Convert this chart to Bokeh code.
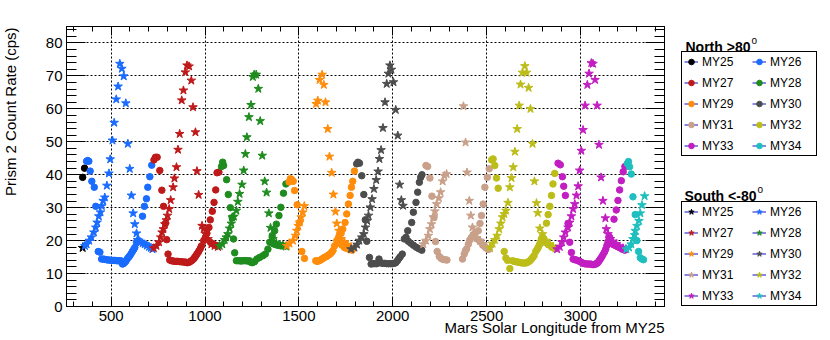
from math import pi
from bokeh.plotting import figure
from bokeh.layouts import row
from bokeh.models import (Range1d, LinearAxis, SingleIntervalTicker, Legend, LegendItem,
                          Label, Title)
from bokeh.embed import file_html
from bokeh.resources import INLINE

FONT = "Liberation Sans"
NAN = float("nan")

years = ["MY25", "MY26", "MY27", "MY28", "MY29", "MY30", "MY31", "MY32", "MY33", "MY34"]
colors = ["#000000", "#1a6cff", "#bf1a1a", "#1f8c1f", "#ff8c0a",
          "#4d4d4d", "#c9a089", "#bdbd1a", "#c21ec2", "#1fbfbf"]

# ---- North >80 (circles) ----
n25_x = [348, 358]
n25_y = [39.2, 42.0]
n26_x = [369, 375, 381, 388, 397, 410, 418, 431, 440, 449, 458, 466, 475, 484, 493, 502, 510, 519, 528, 537,
         545, 551, 560, 565, 573, 579, 585, 592, 599, 606, 613, 620, 626, 635, 644, 667, 677, 688, 695, 706, 716]
n26_y = [44.1, 44.3, 44.1, 41.1, 38.0, 36.2, 30.4, 16.7, 16.5, 14.4, 14.4, 14.3, 14.2, 14.1, 14.1, 14.0, 14.0, 14.0, 13.9, 13.9,
         13.8, 13.9, 12.9, 13.0, 13.4, 13.8, 14.4, 14.9, 15.4, 16.0, 16.7, 17.3, 17.9, 19.5, 20.0, 27.4, 30.4, 32.7, 36.2, 39.4, 42.9]
n27_x = [728, 736, 745, 759, 770, 779, 789, 796, 803, 812, 821, 830, 839, 848, 856, 865, 874, 883, 892, 900,
         905, 912, 918, 926, 933, 940, 945, 951, 957, 963, 968, 975, 981, 993, 1002, 1010, 1021, 1028, 1039, 1048,
         1057, 1064, 1074, 1030, 1045, 1060]
n27_y = [44.5, 45.3, 45.3, 41.3, 35.3, 30.4, 25.2, 20.3, 15.9, 14.1, 13.9, 13.8, 13.7, 13.7, 13.7, 13.6, 13.6, 13.5, 13.5, 13.4,
         13.3, 13.4, 13.5, 13.8, 14.1, 14.5, 14.9, 15.4, 15.9, 16.4, 16.9, 17.6, 18.4, 20.0, 21.0, 22.2, 24.0, 26.3, 28.9, 31.6,
         35.4, 40.6, 40.8, 19.4, 18.9, 18.5]
n28_x = [1088, 1094, 1099, 1115, 1124, 1135, 1145, 1152, 1158, 1167, 1175, 1184, 1193, 1202, 1211, 1220, 1228, 1237, 1245, 1252,
         1264, 1276, 1291, 1308, 1321, 1335, 1345, 1358, 1371, 1380, 1394, 1404, 1418, 1431, 1350, 1365, 1380, 1395, 1410, 1425]
n28_y = [42.5, 43.8, 42.8, 38.5, 34.0, 30.0, 26.9, 20.5, 16.3, 13.9, 13.9, 13.9, 13.8, 13.9, 13.9, 13.9, 13.8, 13.9, 13.4, 13.3,
         13.6, 14.4, 14.9, 15.4, 15.9, 17.4, 19.5, 21.5, 23.0, 25.0, 27.6, 30.1, 34.4, 37.2, 19.6, 19.0, 18.7, 18.5, 18.4, 18.3]
n29_x = [1448, 1455, 1462, 1470, 1477, 1491, 1503, 1516, 1530, 1590, 1597, 1604, 1612, 1620, 1628, 1636, 1645, 1653, 1660, 1668,
         1675, 1682, 1690, 1702, 1712, 1725, 1734, 1746, 1755, 1764, 1773, 1780, 1787, 1796, 1718, 1730, 1743, 1756, 1770, 1784]
n29_y = [37.8, 38.8, 38.5, 38.0, 35.2, 30.9, 25.5, 16.7, 14.6, 13.9, 13.7, 13.8, 14.0, 14.3, 14.6, 14.9, 15.1, 15.4, 15.7, 16.0,
         16.5, 17.0, 18.4, 20.0, 21.0, 22.2, 23.5, 25.5, 28.1, 31.1, 33.7, 36.2, 38.0, 41.1, 19.2, 18.6, 17.9, 17.6, 17.3, 17.1]
n30_x = [1808, 1815, 1823, 1835, 1846, 1854, 1862, 1876, 1885, 1895, 1905, 1915, 1927, 1938, 1948, 1958, 1968, 1978, 1988, 1998,
         2008, 2016, 2025, 2033, 2040, 2051, 2071, 2080, 2101, 2110, 2124, 2133, 2142, 2149, 2156, 2062, 2083, 2096, 2110, 2125,
         2140, 2155]
n30_y = [43.3, 43.8, 43.5, 39.7, 34.0, 26.3, 19.8, 14.9, 12.9, 13.0, 13.0, 13.0, 14.4, 13.2, 13.1, 13.1, 13.0, 13.0, 13.0, 13.0,
         13.1, 13.3, 13.9, 14.6, 15.1, 15.9, 21.0, 23.0, 25.5, 28.6, 31.6, 34.7, 37.7, 39.2, 40.0, 20.5, 19.8, 19.2, 18.6, 18.0,
         17.5, 17.1]
n31_x = [2177, 2186, 2198, 2209, 2220, 2228, 2237, 2248, 2258, 2268, 2278, 2289, 2372, 2381, 2387, 2394, 2403, 2411, 2420, 2430,
         2440, 2456, 2465, 2473, 2482, 2491, 2504, 2514, 2450, 2465, 2480, 2495, 2510]
n31_y = [42.8, 42.5, 39.0, 33.5, 27.0, 19.7, 16.7, 15.2, 14.6, 14.3, 14.2, 14.1, 14.4, 15.9, 16.9, 17.5, 18.9, 20.2, 21.0, 21.8,
         22.4, 23.0, 25.2, 27.6, 31.1, 36.2, 39.2, 41.8, 20.5, 19.7, 18.6, 17.9, 17.3]
n32_x = [2527, 2535, 2544, 2553, 2562, 2594, 2603, 2612, 2624, 2638, 2647, 2656, 2665, 2674, 2682, 2691, 2700, 2709, 2718, 2727,
         2733, 2739, 2746, 2753, 2762, 2769, 2775, 2781, 2787, 2798, 2819, 2828, 2837, 2846, 2854, 2863, 2792, 2810, 2828, 2846,
         2863]
n32_y = [44.5, 44.8, 42.8, 39.0, 35.9, 16.7, 14.7, 14.0, 11.5, 13.9, 13.7, 13.6, 13.5, 13.4, 13.3, 13.2, 13.2, 13.2, 13.4, 13.7,
         14.0, 14.4, 14.9, 15.4, 16.7, 17.3, 17.9, 18.7, 19.5, 21.2, 25.3, 27.9, 30.4, 33.7, 37.2, 40.4, 20.5, 19.5, 18.8, 18.1,
         17.6]
n33_x = [2881, 2893, 2904, 2911, 2920, 2934, 2943, 2952, 2961, 2970, 2979, 2988, 2996, 3005, 3014, 3023, 3032, 3041, 3050, 3059,
         3067, 3075, 3082, 3088, 3094, 3100, 3106, 3113, 3120, 3128, 3135, 3141, 3147, 3152, 3156, 3162, 3170, 3179, 3188, 3197,
         3206, 3215, 3223, 3236, 3179, 3191, 3200, 3209, 3218, 3228, 3237]
n33_y = [43.5, 43.0, 39.4, 36.5, 33.7, 25.2, 19.5, 16.4, 14.4, 14.2, 14.1, 13.9, 13.7, 13.4, 13.1, 13.0, 12.9, 12.9, 12.9, 12.8,
         12.7, 12.8, 12.9, 13.1, 13.4, 13.9, 14.4, 15.0, 15.7, 16.5, 17.4, 18.5, 19.5, 20.3, 21.0, 19.6, 19.0, 18.7, 18.5, 18.2,
         18.0, 17.7, 17.4, 17.1, 26.5, 29.3, 32.2, 35.4, 38.2, 40.9, 42.5]
n34_x = [3250, 3256, 3262, 3271, 3280, 3292, 3301, 3310, 3319, 3328, 3336]
n34_y = [43.4, 44.0, 42.4, 40.2, 33.3, 27.9, 20.0, 16.7, 14.8, 14.4, 14.2]

# ---- South <-80 (stars) ----
s25_x = [348]
s25_y = [17.8]
s26_x = [360, 369, 383, 395, 408, 418, 425, 434, 443, 450, 457, 466, 477, 488, 495, 507, 516, 527, 537, 546,
         557, 567, 578, 589, 599, 608, 617, 626, 635, 640, 656, 668, 679, 690, 702, 712, 720]
s26_y = [18.4, 18.9, 20.0, 21.0, 22.5, 24.0, 25.5, 27.4, 28.6, 30.5, 32.1, 33.1, 36.7, 40.4, 44.7, 50.4, 55.8, 62.9, 66.8, 73.7,
         72.2, 69.9, 61.7, 49.4, 41.8, 33.7, 28.3, 25.0, 22.2, 20.2, 19.5, 19.2, 18.9, 18.5, 18.1, 17.8, 17.4]
s27_x = [727, 741, 755, 764, 771, 778, 786, 794, 800, 809, 817, 830, 837, 848, 856, 865, 876, 885, 895, 904,
         915, 927, 936, 949, 957, 966, 984, 993, 1004, 1016, 1034, 1051, 1069]
s27_y = [17.7, 18.4, 19.5, 21.0, 22.5, 23.5, 25.0, 26.2, 27.6, 29.6, 32.3, 36.2, 38.9, 42.3, 47.6, 52.4, 62.6, 65.6, 71.1, 73.2,
         72.9, 68.6, 60.5, 52.9, 41.1, 33.9, 24.5, 23.5, 22.0, 20.5, 18.9, 18.4, 18.1]
s28_x = [1078, 1092, 1105, 1113, 1122, 1131, 1140, 1145, 1154, 1167, 1175, 1184, 1197, 1206, 1215, 1223, 1234, 1245, 1255, 1262,
         1273, 1284, 1294, 1305, 1318, 1328, 1340, 1349, 1362, 1380, 1397, 1415, 1433]
s28_y = [18.4, 18.9, 20.2, 21.0, 22.0, 23.7, 25.2, 27.1, 27.3, 29.1, 31.8, 34.2, 37.0, 41.3, 46.3, 51.4, 57.5, 61.2, 69.7, 70.4,
         70.4, 66.1, 56.3, 45.8, 38.0, 34.6, 28.3, 23.9, 20.5, 19.2, 18.8, 18.5, 18.2]
s29_x = [1436, 1450, 1468, 1482, 1489, 1496, 1504, 1512, 1521, 1529, 1592, 1601, 1610, 1624, 1633, 1642, 1654, 1663, 1675, 1684,
         1695, 1702, 1713, 1725, 1743, 1760, 1778]
s29_y = [18.4, 19.1, 20.0, 21.5, 23.0, 24.5, 25.5, 27.1, 28.6, 30.5, 61.5, 62.5, 68.8, 70.4, 67.3, 62.0, 53.9, 45.5, 40.6, 34.0,
         28.8, 25.2, 23.0, 20.5, 19.5, 18.7, 18.1]
s30_x = [1778, 1796, 1810, 1822, 1835, 1846, 1855, 1864, 1871, 1881, 1890, 1900, 1912, 1922, 1929, 1938, 1948, 1959, 1968, 1977,
         1985, 1993, 2004, 2016, 2027, 2037, 2046, 2055]
s30_y = [17.4, 17.9, 18.8, 20.0, 21.0, 22.0, 24.0, 26.0, 27.6, 30.1, 32.6, 35.7, 38.4, 41.0, 44.8, 47.5, 54.2, 62.0, 67.6, 70.7,
         73.2, 71.9, 68.1, 59.7, 51.9, 37.0, 32.3, 30.6]
s31_x = [2163, 2177, 2190, 2198, 2207, 2216, 2225, 2234, 2246, 2255, 2266, 2275, 2287, 2377, 2388, 2396, 2408, 2416, 2425, 2435,
         2447, 2465, 2482, 2500, 2518]
s31_y = [18.9, 20.0, 21.5, 23.5, 25.0, 27.1, 28.9, 31.1, 32.9, 34.7, 38.0, 39.7, 40.2, 60.8, 49.8, 40.7, 32.1, 27.6, 24.0, 22.0,
         20.8, 20.0, 19.0, 17.9, 17.7]
s32_x = [2518, 2532, 2544, 2556, 2567, 2576, 2585, 2594, 2603, 2614, 2624, 2633, 2642, 2651, 2663, 2674, 2681, 2691, 2704, 2713,
         2724, 2734, 2745, 2755, 2766, 2773, 2784, 2798, 2819, 2837, 2854, 2868]
s32_y = [17.9, 19.1, 20.2, 21.5, 23.5, 25.2, 27.1, 28.1, 29.1, 31.5, 36.2, 39.0, 42.3, 47.0, 53.9, 61.0, 67.4, 71.0, 73.0, 71.0,
         66.4, 60.0, 49.4, 38.0, 31.4, 28.4, 23.7, 22.0, 20.0, 18.9, 18.1, 17.6]
s33_x = [2876, 2890, 2902, 2911, 2920, 2934, 2943, 2952, 2961, 2970, 2979, 2988, 2996, 3005, 3014, 3025, 3037, 3046, 3058, 3067,
         3078, 3089, 3099, 3110, 3120, 3133, 3138, 3147, 3160, 3174, 3191, 3209, 3227, 3241]
s33_y = [17.4, 18.1, 19.5, 21.0, 22.5, 24.0, 25.5, 27.4, 29.6, 31.1, 33.7, 36.5, 41.3, 47.3, 53.6, 61.0, 67.3, 70.7, 73.9, 73.7,
         68.8, 61.0, 49.1, 39.2, 32.1, 26.8, 23.5, 22.0, 20.5, 19.7, 19.0, 18.2, 17.7, 17.4]
s34_x = [3245, 3259, 3271, 3280, 3289, 3292, 3301, 3312, 3319, 3328, 3342]
s34_y = [17.4, 17.9, 18.9, 20.5, 21.7, 23.0, 24.5, 26.0, 28.3, 30.8, 33.5]

north = [(n25_x, n25_y), (n26_x, n26_y), (n27_x, n27_y), (n28_x, n28_y), (n29_x, n29_y),
         (n30_x, n30_y), (n31_x, n31_y), (n32_x, n32_y), (n33_x, n33_y), (n34_x, n34_y)]
south = [(s25_x, s25_y), (s26_x, s26_y), (s27_x, s27_y), (s28_x, s28_y), (s29_x, s29_y),
         (s30_x, s30_y), (s31_x, s31_y), (s32_x, s32_y), (s33_x, s33_y), (s34_x, s34_y)]

# layout constants (pixels); the page template has no body margin
TOP, FRAME_H, BOTTOM = 26, 280, 34                      # 340
YL_W, LEFT, FRAME_W, RIGHT, LW = 20, 46, 598, 6, 160    # 830

# ---------------- main plot ----------------
p = figure(frame_width=FRAME_W, frame_height=FRAME_H, output_backend="svg", toolbar_location=None,
           x_range=Range1d(262, 3448), y_range=Range1d(0, 85),
           min_border_left=LEFT, min_border_right=RIGHT, min_border_top=TOP, min_border_bottom=BOTTOM)
p.background_fill_color = "white"
p.border_fill_color = "white"
p.outline_line_color = "black"
p.outline_line_width = 1

xt = SingleIntervalTicker(interval=500, num_minor_ticks=5)
yt = SingleIntervalTicker(interval=10, num_minor_ticks=5)
p.xaxis[0].ticker = xt
p.yaxis[0].ticker = yt

def style_axis(ax, tin, tmin):
    ax.axis_line_color = "black"
    ax.major_tick_line_color = "black"
    ax.minor_tick_line_color = "black"
    ax.major_tick_in = tin
    ax.major_tick_out = 0
    ax.minor_tick_in = tmin
    ax.minor_tick_out = 0
    ax.major_label_text_font = FONT
    ax.major_label_text_font_size = "15px"
    ax.major_label_text_color = "black"

xa = p.xaxis[0]
ya = p.yaxis[0]
style_axis(xa, 9, 5)
style_axis(ya, 19, 10)
xa.major_label_standoff = 4
ya.major_label_standoff = 4

# mirror ticks (no labels) on top and right
top_ax = LinearAxis(ticker=xt)
style_axis(top_ax, 9, 5)
top_ax.major_label_text_font_size = "1px"
top_ax.major_label_text_color = None
top_ax.major_label_standoff = 0
p.add_layout(top_ax, "above")
right_ax = LinearAxis(ticker=yt)
style_axis(right_ax, 19, 10)
right_ax.major_label_text_font_size = "1px"
right_ax.major_label_text_color = None
right_ax.major_label_standoff = 0
p.add_layout(right_ax, "right")

for g in (p.xgrid[0], p.ygrid[0]):
    g.grid_line_color = "black"
    g.grid_line_dash = "2 2"
    g.grid_line_width = 1
    g.grid_line_alpha = 1.0

# x axis title, right aligned under the frame
p.add_layout(Title(text="Mars Solar Longitude from MY25", align="right", vertical_align="top",
                   text_font=FONT, text_font_size="15px", text_font_style="normal",
                   text_color="black", standoff=-10, offset=0), "below")

for (nx, ny), (sx, sy), c in zip(north, south, colors):
    p.scatter(nx, ny, marker="circle", size=6.5, fill_color=c, line_color=c)
    p.scatter(sx, sy, marker="star", size=9, fill_color=c, line_color=c)

def side_fig(w):
    f = figure(frame_width=w, frame_height=FRAME_H, output_backend="svg", toolbar_location=None,
               x_range=Range1d(0, w), y_range=Range1d(0, FRAME_H),
               x_axis_location=None, y_axis_location=None,
               min_border_left=0, min_border_right=0, min_border_top=TOP, min_border_bottom=BOTTOM)
    f.outline_line_color = None
    f.grid.visible = False
    f.background_fill_color = "white"
    f.border_fill_color = "white"
    return f

# ---------------- y axis title panel ----------------
yl = side_fig(YL_W)
yl.add_layout(Label(x=1, y=FRAME_H - 1, text="Prism 2 Count Rate (cps)", angle=pi / 2,
                    text_align="right", text_baseline="top",
                    text_font=FONT, text_font_size="15px", text_color="black"))

# ---------------- legend panel ----------------
lf = side_fig(LW)
LEG_LINE = "#3a3ad0"

def make_legend(marker, size, loc):
    items = []
    for yr, c in zip(years, colors):
        lr = lf.line(x=[NAN], y=[NAN], line_color=LEG_LINE, line_width=1.2)
        mr = lf.scatter(x=[NAN], y=[NAN], marker=marker, size=size, fill_color=c, line_color=c)
        items.append(LegendItem(label=yr, renderers=[lr, mr]))
    leg = Legend(items=items, location=loc, orientation="horizontal", ncols=2)
    leg.label_text_font = FONT
    leg.label_text_font_size = "12px"
    leg.label_text_color = "black"
    leg.glyph_width = 14
    leg.glyph_height = 15
    leg.label_height = 15
    leg.label_width = 44
    leg.label_standoff = 4
    leg.padding = 2
    leg.spacing = 6
    leg.margin = 0
    leg.border_line_color = "black"
    leg.border_line_width = 1
    leg.border_line_alpha = 1
    leg.background_fill_color = "white"
    leg.background_fill_alpha = 1
    return leg

# legend panel: x from panel left (page 670), y up from frame bottom (page 306)
lf.add_layout(make_legend("circle", 6.5, (11, 150)))
lf.add_layout(make_legend("star", 9, (11, 0)))

def heading(text, sup, x, y, sup_dx):
    lf.add_layout(Label(x=x, y=y, text=text, text_font=FONT, text_font_size="14px",
                        text_font_style="bold", text_color="black", text_baseline="alphabetic"))
    lf.add_layout(Label(x=x + sup_dx, y=y + 6, text=sup, text_font=FONT, text_font_size="10px",
                        text_color="black", text_baseline="alphabetic"))

heading("North >80", "o", 15, 260, 66)
heading("South <-80", "o", 14, 111, 73)

layout = row(yl, p, lf)
open("out.html", "w").write(file_html(layout, INLINE))
